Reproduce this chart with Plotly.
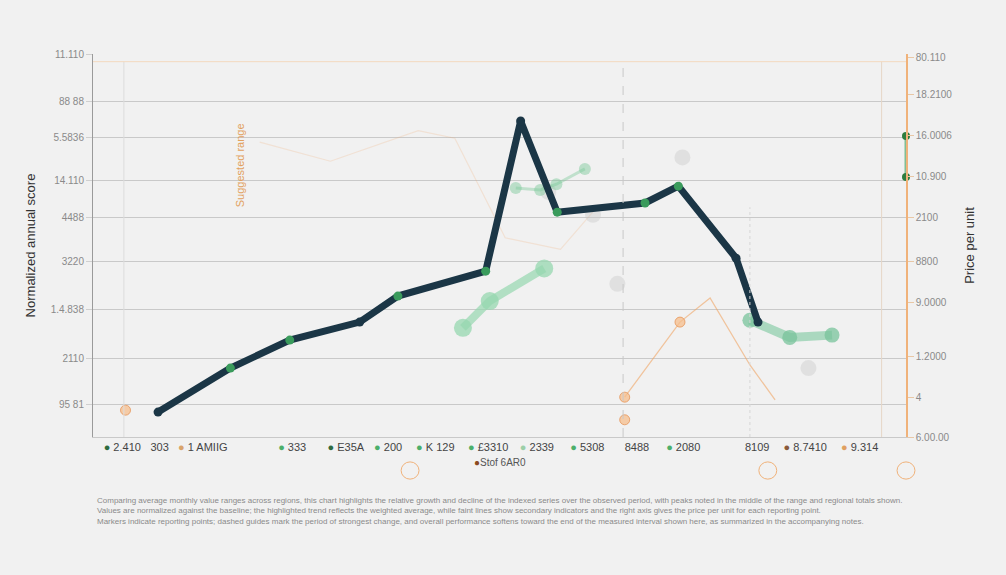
import plotly.graph_objects as go

# ---------------- data ----------------
main_x = [8.0, 16.9, 24.2, 32.8, 37.5, 48.3, 52.6, 57.1, 67.9, 72.0, 79.1, 81.8]
main_y = [6.5, 18.0, 25.3, 30.0, 36.8, 43.3, 82.5, 58.7, 61.1, 65.5, 46.7, 30.0]
main_marker_colors = ["#1b3646", "#3a9b5c", "#3a9b5c", "#1b3646", "#3a9b5c", "#3a9b5c",
                      "#1b3646", "#3a9b5c", "#3a9b5c", "#3a9b5c", "#1b3646", "#1b3646"]

green_a_x = [45.5, 48.8, 55.5]
green_a_y = [28.5, 35.5, 44.0]
green_b_x = [80.8, 85.7, 90.9]
green_b_y = [30.5, 26.0, 26.6]
green_c_x = [52.0, 55.0, 57.0, 60.5]
green_c_y = [65.0, 64.5, 66.0, 70.0]

orange_faint_x = [20.5, 29.2, 40.0, 44.5, 50.7, 57.5, 62.0]
orange_faint_y = [77.0, 72.0, 80.0, 78.0, 52.0, 49.0, 60.0]
orange_x = [65.4, 72.2, 75.9, 80.8, 83.9]
orange_y = [10.4, 30.0, 36.3, 18.8, 9.7]
orange_pts_x = [4.0, 65.4, 65.4, 72.2]
orange_pts_y = [7.0, 10.4, 4.5, 30.0]

gray_x = [56.0, 61.5, 64.5, 72.5, 88.0]
gray_y = [64.0, 58.0, 40.0, 73.0, 18.0]

left_tickvals = [100, 87.7, 78.3, 67.1, 57.2, 45.7, 33.4, 20.6, 8.6]
left_ticktext = ["11.110", "88 88", "5.5836", "14.110", "4488", "3220", "1.4.838", "2110", "95 81"]

right_tickvals = [99.2, 89.3, 78.6, 67.9, 57.4, 45.7, 35.2, 20.9, 10.2, 0]
right_ticktext = ["80.110", "18.2100", "16.0006", "10.900", "2100", "8800", "9.0000", "1.2000", "4", "6.00.00"]

x_tickvals = [3.6, 8.2, 13.5, 24.5, 31.1, 36.3, 42.1, 48.6, 54.6, 60.8, 66.9, 72.6, 81.7, 87.6, 94.3]
x_labels = ["2.410", "303", "1 AMIIG", "333", "E35A", "200", "K 129", "£3310",
            "2339", "5308", "8488", "2080", "8109", "8.7410", "9.314"]
x_dot_colors = ["#2f6b3f", None, "#d9a46b", "#4caf6a", "#2f6b3f", "#4caf6a", "#4caf6a", "#4caf6a",
                "#9ccfa8", "#4caf6a", None, "#4caf6a", None, "#8a5a3a", "#e0a060"]

caption = ("Comparing average monthly value ranges across regions, this chart highlights the relative growth and decline of the indexed series over the observed period, with peaks noted in the middle of the range and regional totals shown.<br>"
           "Values are normalized against the baseline; the highlighted trend reflects the weighted average, while faint lines show secondary indicators and the right axis gives the price per unit for each reporting point.<br>"
           "Markers indicate reporting points; dashed guides mark the period of strongest change, and overall performance softens toward the end of the measured interval shown here, as summarized in the accompanying notes.")

# ---------------- figure ----------------
fig = go.Figure()

fig.add_trace(go.Scatter(x=orange_faint_x, y=orange_faint_y, mode="lines",
                         line=dict(color="rgba(240,170,110,0.22)", width=1.2),
                         showlegend=False, hoverinfo="skip"))
fig.add_trace(go.Scatter(x=orange_x, y=orange_y, mode="lines",
                         line=dict(color="rgba(240,165,100,0.6)", width=1.3),
                         showlegend=False, hoverinfo="skip"))
fig.add_trace(go.Scatter(x=orange_pts_x, y=orange_pts_y, mode="markers",
                         marker=dict(size=10, color="rgba(245,190,140,0.75)",
                                     line=dict(color="rgba(230,150,90,0.8)", width=1)),
                         showlegend=False, hoverinfo="skip"))

fig.add_trace(go.Scatter(x=gray_x, y=gray_y, mode="markers",
                         marker=dict(size=16, color="rgba(200,200,200,0.4)"),
                         showlegend=False, hoverinfo="skip"))

fig.add_trace(go.Scatter(x=green_c_x, y=green_c_y, mode="lines+markers",
                         line=dict(color="rgba(120,200,150,0.4)", width=3),
                         marker=dict(size=12, color="rgba(120,200,150,0.45)"),
                         showlegend=False, hoverinfo="skip"))

fig.add_trace(go.Scatter(x=green_a_x, y=green_a_y, mode="lines+markers",
                         line=dict(color="rgba(150,215,175,0.7)", width=8),
                         marker=dict(size=18, color="rgba(150,215,175,0.75)"),
                         showlegend=False, hoverinfo="skip"))

fig.add_trace(go.Scatter(x=green_b_x, y=green_b_y, mode="lines+markers",
                         line=dict(color="rgba(140,205,170,0.7)", width=9),
                         marker=dict(size=15, color="rgba(120,195,155,0.75)"),
                         showlegend=False, hoverinfo="skip"))

fig.add_trace(go.Scatter(x=main_x, y=main_y, mode="lines+markers",
                         line=dict(color="#1b3646", width=7),
                         marker=dict(size=9, color=main_marker_colors),
                         showlegend=False, hoverinfo="skip"))

fig.add_trace(go.Scatter(x=[100, 100], y=[78.6, 67.9], yaxis="y2", mode="lines+markers",
                         line=dict(color="rgba(80,170,110,0.7)", width=3),
                         marker=dict(size=8, color="#2e7d3e"),
                         showlegend=False, hoverinfo="skip", cliponaxis=False))

x_ticktext = []
for lab, col in zip(x_labels, x_dot_colors):
    if col:
        x_ticktext.append(f"<span style='color:{col}'>●</span> {lab}")
    else:
        x_ticktext.append(lab)

fig.update_layout(
    width=1006, height=575,
    margin=dict(l=93, r=100, t=54, b=138),
    paper_bgcolor="#f1f1f1", plot_bgcolor="#f1f1f1",
    font=dict(family="Liberation Sans, Arial, sans-serif", color="#777"),
    xaxis=dict(range=[0, 100], tickvals=x_tickvals, ticktext=x_ticktext,
               showgrid=False, zeroline=False, showline=True, linecolor="#c9c9c9",
               ticks="", tickfont=dict(size=11, color="#444")),
    yaxis=dict(range=[0, 100], tickvals=left_tickvals, ticktext=left_ticktext,
               showgrid=True, gridcolor="#c9c9c9", gridwidth=1, zeroline=False,
               showline=True, linecolor="#9a9a9a", ticks="outside", ticklen=6,
               tickcolor="#cfcfcf", tickfont=dict(size=10, color="#8a8a8a"),
               title=dict(text="Normalized annual score", font=dict(size=13, color="#333"), standoff=12)),
    yaxis2=dict(range=[0, 100], overlaying="y", side="right", tickvals=right_tickvals,
                ticktext=right_ticktext, showgrid=False, zeroline=False, showline=True,
                linecolor="#f0b27a", linewidth=1.5, ticks="outside", ticklen=6, tickcolor="#e8c7a5",
                tickfont=dict(size=10, color="#8a8a8a"),
                title=dict(text="Price per unit", font=dict(size=13, color="#333"), standoff=14)),
)

fig.add_shape(type="line", xref="x", yref="paper", x0=3.8, x1=3.8, y0=0, y1=0.98,
              line=dict(color="#dcdcdc", width=1))
fig.add_shape(type="line", xref="x", yref="paper", x0=65.2, x1=65.2, y0=0, y1=0.98,
              line=dict(color="#c8c8c8", width=1, dash="dash"))
fig.add_shape(type="line", xref="x", yref="paper", x0=80.8, x1=80.8, y0=0, y1=0.6,
              line=dict(color="#d6d6d6", width=1, dash="dot"))
fig.add_shape(type="line", xref="x", yref="paper", x0=97.0, x1=97.0, y0=0, y1=0.98,
              line=dict(color="#e6d6c6", width=1))
fig.add_shape(type="line", xref="paper", yref="paper", x0=0, x1=1, y0=0.98, y1=0.98,
              line=dict(color="#f3d9bf", width=1))

for cx in [0.39, 0.83, 1.0]:
    fig.add_shape(type="circle", xref="paper", yref="paper",
                  x0=cx - 0.011, x1=cx + 0.011, y0=-0.11, y1=-0.065,
                  line=dict(color="#f0b27a", width=1))

fig.add_annotation(x=0.5, y=-0.085, xref="paper", yref="paper",
                   text="<span style='color:#8a4a20'>●</span>Stof 6AR0", showarrow=False,
                   font=dict(size=10, color="#555"))

fig.add_annotation(x=18.1, y=71, xref="x", yref="y", text="Suggested range",
                   textangle=-90, showarrow=False, font=dict(size=11, color="#e2a15e"))

fig.add_annotation(x=0.5, y=-0.193, xref="paper", yref="paper", text=caption,
                   showarrow=False, align="left", xanchor="center", yanchor="middle",
                   font=dict(size=8, color="#8a8a8a"))

fig.write_html("out.html", config={"displayModeBar": False},
               post_script="document.body.style.margin='0';document.body.style.background='#f1f1f1';document.body.style.overflow='hidden';")
